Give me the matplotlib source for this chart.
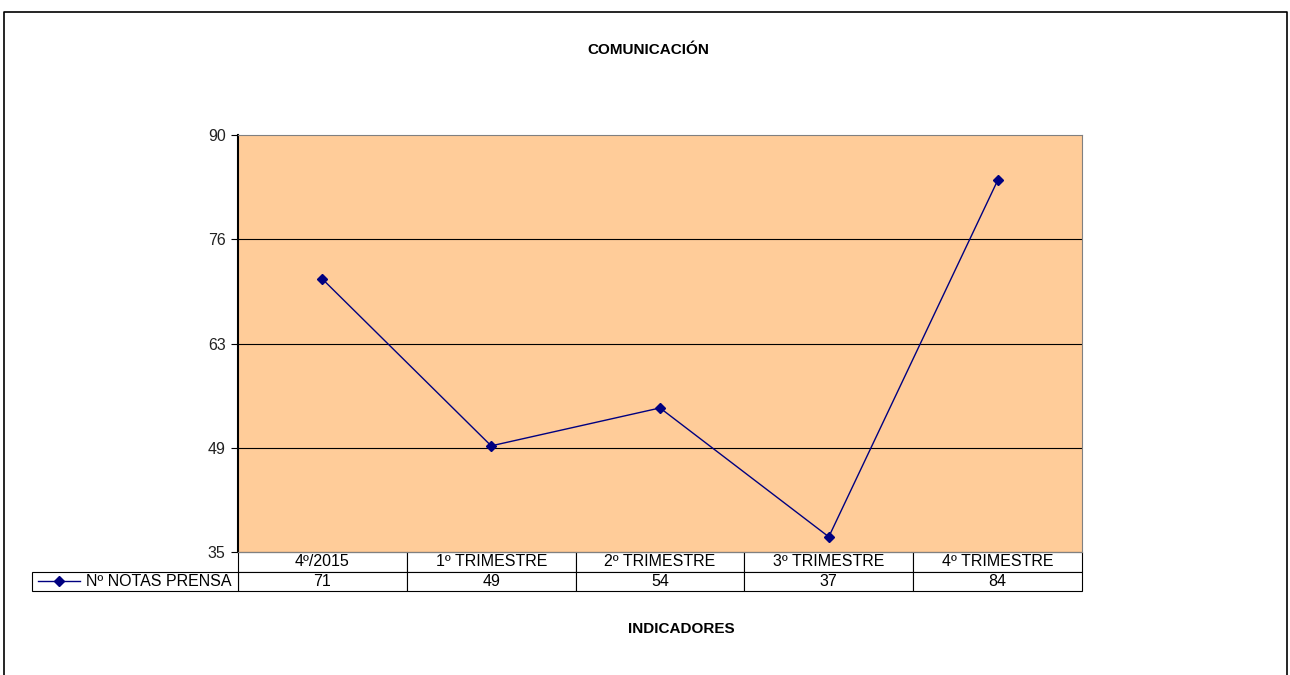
import matplotlib.pyplot as plt
from matplotlib.lines import Line2D
from matplotlib.patches import Rectangle

plt.rcParams["font.family"] = ["Liberation Sans", "DejaVu Sans"]

# Data
categories = ["4º/2015", "1º TRIMESTRE", "2º TRIMESTRE", "3º TRIMESTRE", "4º TRIMESTRE"]
notas_prensa = [71, 49, 54, 37, 84]
series_name = "Nº NOTAS PRENSA"
y_ticks = [35, 48.75, 62.5, 76.25, 90]
y_tick_labels = ["35", "49", "63", "76", "90"]

W, H = 1290, 675
fig = plt.figure(figsize=(W / 100, H / 100), dpi=100)

# outer chart border
fig.add_artist(Line2D([4 / W, 4 / W, 1287 / W, 1287 / W],
                      [0, 1 - 12 / H, 1 - 12 / H, 0],
                      transform=fig.transFigure, color="black", lw=1.2))

left, right, top, bottom = 238, 1082, 135, 552
ax = fig.add_axes([left / W, 1 - bottom / H, (right - left) / W, (bottom - top) / H])
ax.set_facecolor("#FFCC99")

x = list(range(len(categories)))
ax.plot(x, notas_prensa, color="#000080", lw=1, marker="D", markersize=5.5,
        markerfacecolor="#000080", markeredgecolor="#000080", zorder=3)

ax.set_xlim(-0.5, len(categories) - 0.5)
ax.set_ylim(35, 90)
ax.set_yticks(y_ticks)
ax.set_yticklabels(y_tick_labels, fontsize=11.5)
ax.set_xticks([])
for yt in y_ticks[1:-1]:
    ax.axhline(yt, color="black", lw=0.8, zorder=1)
ax.tick_params(axis="y", length=5, width=0.8, colors="black", labelcolor="#222222", pad=4)

ax.spines["left"].set_color("black")
ax.spines["left"].set_linewidth(1.5)
for s in ["top", "right", "bottom"]:
    ax.spines[s].set_color("#808080")
    ax.spines[s].set_linewidth(0.8)

# data table under the plot
row_h = 19.5 / (bottom - top)
tr = ax.get_xaxis_transform()
for i, (cat, val) in enumerate(zip(categories, notas_prensa)):
    for r in range(2):
        ax.add_patch(Rectangle((i - 0.5, -(r + 1) * row_h), 1, row_h, transform=tr,
                               facecolor="white", edgecolor="black", lw=0.8, clip_on=False))
    ax.text(i, -0.5 * row_h, cat, transform=tr, ha="center", va="center", fontsize=11.5)
    ax.text(i, -1.5 * row_h, str(val), transform=tr, ha="center", va="center", fontsize=11.5)

# row label cell with legend key
lab_left = 32
fig.add_artist(Rectangle((lab_left / W, 1 - 591 / H), (left - lab_left) / W, 19.5 / H,
                         transform=fig.transFigure, facecolor="white", edgecolor="black", lw=0.8))
ky = 1 - 581 / H
fig.add_artist(Line2D([38 / W, 80 / W], [ky, ky], transform=fig.transFigure,
                      color="#000080", lw=1))
fig.add_artist(Line2D([59 / W], [ky], transform=fig.transFigure, marker="D",
                      markersize=5.5, color="#000080"))
fig.text(86 / W, ky, series_name, ha="left", va="center", fontsize=11.5)

fig.text(648 / W, 1 - 50 / H, "COMUNICACIÓN", ha="center", va="center",
         fontsize=11, fontweight="bold")
fig.text(681 / W, 1 - 629 / H, "INDICADORES", ha="center", va="center",
         fontsize=11, fontweight="bold")

fig.savefig("out.png", dpi=100)
